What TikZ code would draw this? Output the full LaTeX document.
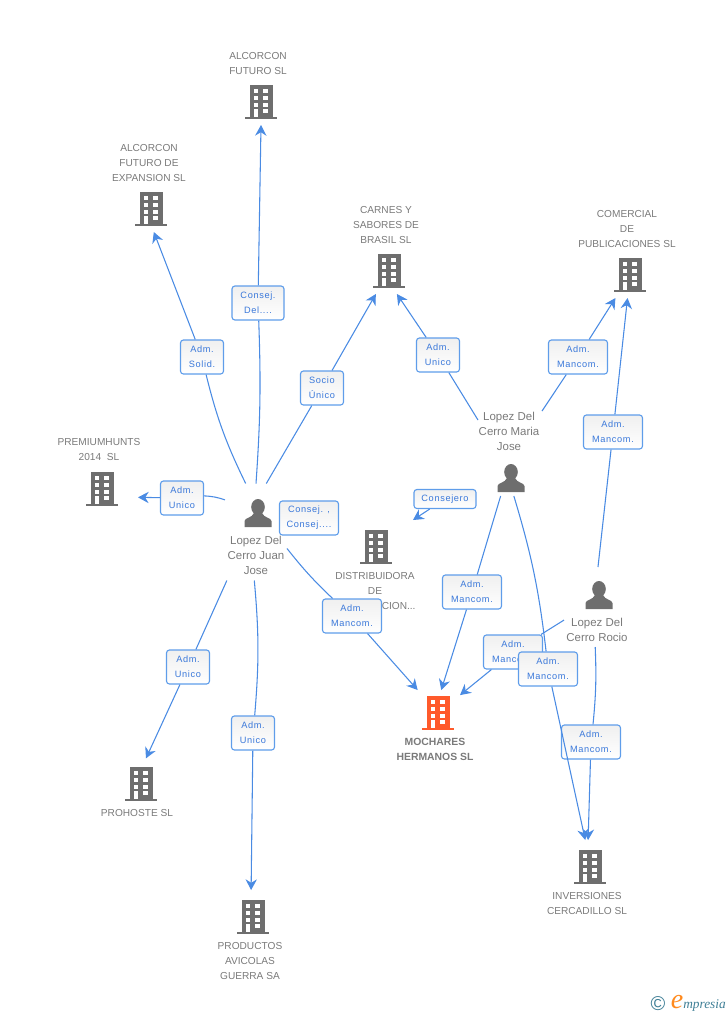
\documentclass[tikz,border=0pt]{standalone}
\usepackage{fontspec}
\setmainfont{Liberation Sans}
\newfontfamily\lblfont[LetterSpace=7]{Liberation Sans}
\newfontfamily\logofont{Liberation Serif}
\usetikzlibrary{arrows.meta}
\definecolor{linec}{HTML}{4A8BE3}
\definecolor{boxc}{HTML}{5F9DEA}
\definecolor{lblc}{HTML}{3A78DA}
\definecolor{grayc}{HTML}{6E6E6E}
\definecolor{txtc}{HTML}{7A7A7A}
\definecolor{orangec}{HTML}{FF5A2B}
\definecolor{tealc}{HTML}{3F7F96}
\definecolor{logoc}{HTML}{FF8A1E}
\newcommand{\shapebld}[1]{%
  \begin{scope}[shift={(path picture bounding box.center)}]
   \fill[#1] (-11.5,-17) rectangle (11.5,15);
   \fill[#1] (-16,15) rectangle (16,17);
   \foreach \wy in {-12.7,-6.3,0.7}{
     \fill[white] (-7,\wy) rectangle +(4.3,4.1);
     \fill[white] (2.3,\wy) rectangle +(4.5,4.1);
   }
   \fill[white] (-7,7) rectangle (-2.7,15);
   \fill[white] (2.3,7) rectangle (6.8,11);
  \end{scope}}
\newcommand{\shapeusr}{%
  \begin{scope}[shift={(path picture bounding box.center)}]
   \fill[grayc] (0,-6) ellipse [x radius=6.8,y radius=8];
   \fill[grayc] (-13.5,14) -- (-13.5,8) .. controls (-13,4.5) and (-6,5) .. (-4,0) -- (4,0) .. controls (6,5) and (13,4.5) .. (13.5,8) -- (13.5,14) -- cycle;
  \end{scope}}
\tikzset{
  bld/.style={minimum width=24pt,minimum height=25.5pt,inner sep=0pt,outer sep=4.5pt,path picture={\shapebld{#1}}},
  bld/.default=grayc,
  usr/.style={minimum width=21pt,minimum height=21.75pt,inner sep=0pt,outer sep=0pt,path picture={\shapeusr}},
  usrbox/.style 2 args={minimum width=#1*.75pt,minimum height=#2*.75pt,inner sep=0pt,outer sep=0pt},
  txt/.style={font=\fontsize{7.6}{11.25}\selectfont,text=txtc,align=center,inner sep=0pt},
  namet/.style={txt,font=\fontsize{8.6}{11.25}\selectfont},
  lbl/.style={draw=boxc,line width=.85pt,rounded corners=2.2pt,top color=black!6,bottom color=white,font=\lblfont\fontsize{6.9}{11.25}\selectfont,text=lblc,align=center,inner sep=0pt,minimum height=25.5pt},
  lbls/.style={lbl,minimum width=32.25pt},
  lblm/.style={lbl,minimum width=44.25pt},
  con/.style={draw=linec,line width=.8pt},
  arr/.style={con,-{Stealth[length=8pt,width=8.5pt,inset=2.6pt]}},
}
\begin{document}
\begin{tikzpicture}[x=.75pt,y=-.75pt]
 \useasboundingbox (0,0) rectangle (728,1015);
 % buildings
 \node[bld] (futuro) at (261,102) {};
 \node[bld] (expansion) at (151,209) {};
 \node[bld] (carnes) at (389,271) {};
 \node[bld] (comercial) at (630,275) {};
 \node[bld,outer sep=15pt] (premium) at (102,489) {};
 \node[bld,outer sep=0pt] (distrib) at (376,547) {};
 \node[bld=orangec] (mochares) at (438,713) {};
 \node[bld,outer sep=6.5pt] (prohoste) at (141,784) {};
 \node[bld,outer sep=7.5pt] (productos) at (253,917) {};
 \node[bld,outer sep=7.5pt] (inversiones) at (590,867) {};
 \coordinate (distribtip) at (413,520);
 % people
 \node[usr] (juanicon) at (258,513) {};
 \node[usr] (mariaicon) at (511,478) {};
 \node[usr] (rocioicon) at (599,595) {};
 \node[usrbox={62}{97}] (juan) at (256,532) {};
 \node[usrbox={64}{88}] (maria) at (510,452) {};
 \node[usrbox={68}{80}] (rocio) at (598,607) {};
 % texts
 \node[txt] (tfuturo) at (258,64) {ALCORCON\\FUTURO SL};
 \node[txt] (texpansion) at (149,163) {ALCORCON\\FUTURO DE\\EXPANSION SL};
 \node[txt] (tcarnes) at (386,225) {CARNES Y\\SABORES DE\\BRASIL SL};
 \node[txt] (tcomercial) at (627,229) {COMERCIAL\\DE\\PUBLICACIONES SL};
 \node[txt] (tpremium) at (99,450) {PREMIUMHUNTS\\2014\ \ SL};
 \node[txt] (tdistrib) at (375,591) {DISTRIBUIDORA\\DE\\DISTRIBUCION...};
 \node[txt,font=\fontsize{7.8}{11.25}\selectfont\bfseries] (tmochares) at (435,749) {MOCHARES\\HERMANOS SL};
 \node[txt] (tprohoste) at (137,813) {PROHOSTE SL};
 \node[txt] (tproductos) at (250,961) {PRODUCTOS\\AVICOLAS\\GUERRA SA};
 \node[txt] (tinversiones) at (587,903) {INVERSIONES\\CERCADILLO SL};
 \node[namet] (tjuan) at (256,555) {Lopez Del\\Cerro Juan\\Jose};
 \node[namet] (tmaria) at (509,431) {Lopez Del\\Cerro Maria\\Jose};
 \node[namet] (trocio) at (597,630) {Lopez Del\\Cerro Rocio};
 % labels
 \path (258,303) node[lblm,minimum width=39pt] (lconsej) {Consej.\\Del....};
 \path (202,357) node[lbls] (lsolid) {Adm.\\Solid.};
 \path (322,388) node[lbls] (lsocio) {Socio\\Único};
 \path (182,498) node[lbls] (lpremium) {Adm.\\Unico};
 \path (188,667) node[lbls] (lprohoste) {Adm.\\Unico};
 \path (253,733) node[lbls] (lproductos) {Adm.\\Unico};
 \path (309,518) node[lblm] (lconsejj) {Consej. ,\\Consej....};
 \path (352,616) node[lblm] (ljuanmoch) {Adm.\\Mancom.};
 \path (438,355) node[lbls] (lcarnes) {Adm.\\Unico};
 \path (578,357) node[lblm] (lmariacom) {Adm.\\Mancom.};
 \path (445,499) node[lblm,minimum width=46.5pt,minimum height=14.25pt] (lconsejero) {Consejero};
 \path (472,592) node[lblm] (lmariamoch) {Adm.\\Mancom.};
 \path (613,432) node[lblm] (lrociocom) {Adm.\\Mancom.};
 \path (513,652) node[lblm] (lrociomoch) {Adm.\\Mancom.};
 \path (548,669) node[lblm] (lmariainv) {Adm.\\Mancom.};
 \path (591,742) node[lblm] (lrocioinv) {Adm.\\Mancom.};
 % connectors
 \draw[con] (juan.north) to[bend right=3] (lconsej);
 \draw[arr] (lconsej) -- (futuro.south);
 \draw[con] (juan.102) to[bend left=6] (lsolid);
 \draw[arr] (lsolid) -- (expansion.277);
 \draw[con] (juan.78) -- (lsocio);
 \draw[arr] (lsocio) -- (carnes);
 \draw[con] (juan.134) to[bend right=8] (lpremium);
 \draw[arr] (lpremium) -- (premium.347);
 \draw[con] (juan.239) -- (lprohoste);
 \draw[arr] (lprohoste) -- (prohoste.79);
 \draw[con] (juan.268) to[bend left=5] (lproductos);
 \draw[arr] (lproductos) -- (productos.94);
 \draw[con] (juan.332) to[bend right=4] (ljuanmoch);
 \draw[arr] (ljuanmoch) -- (mochares);
 \draw[con] (maria.135) -- (lcarnes);
 \draw[arr] (lcarnes) -- (carnes.289);
 \draw[con] (maria.52) -- (lmariacom);
 \draw[arr] (lmariacom) -- (comercial);
 \draw[arr] (lconsejero) -- (distribtip);
 \draw[con] (maria.258) -- (lmariamoch);
 \draw[arr] (lmariamoch) -- (mochares.82);
 \draw[con] (maria.275) to[bend left=5] (lmariainv);
 \draw[arr] (lmariainv) -- (inversiones.100);
 \draw[con] (rocio.north) -- (lrociocom);
 \draw[arr] (lrociocom) -- (comercial);
 \draw[con] (rocio.201) -- (lrociomoch);
 \draw[arr] (lrociomoch) -- (mochares);
 \draw[con] (rocio.266) to[bend left=4] (lrocioinv);
 \draw[arr] (lrocioinv) -- (inversiones.94);
 % logo
 \node[inner sep=0pt,text=tealc,font=\fontsize{15}{15}\selectfont] (copyr) at (658,1004) {©};
 \node[inner sep=0pt,text=logoc,font=\logofont\itshape\fontsize{21}{21}\selectfont] (logoe) at (677,1002) {e};
 \node[inner sep=0pt,anchor=west,text=tealc,font=\logofont\itshape\fontsize{10}{11}\selectfont] (logotxt) at (683,1005) {mpresia};
\end{tikzpicture}
\end{document}
